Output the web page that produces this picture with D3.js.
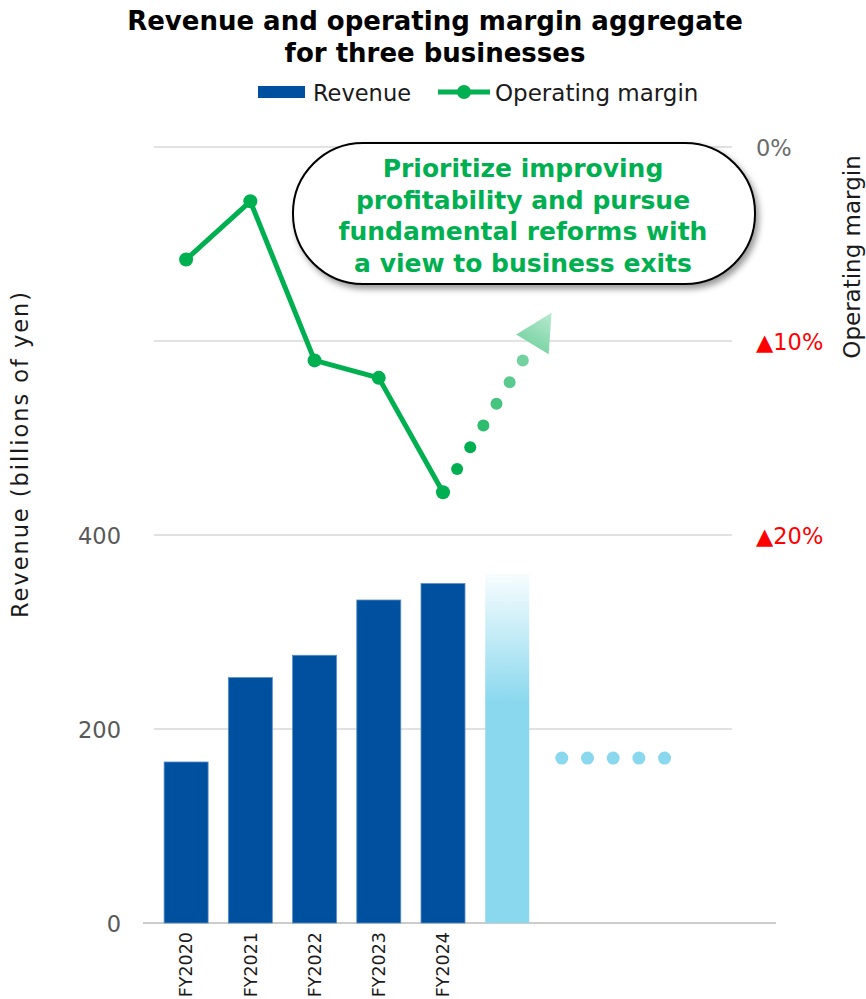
<!DOCTYPE html>
<html>
<head>
<meta charset="utf-8">
<script src="https://cdn.jsdelivr.net/npm/d3@7"></script>
<style>
  html, body { margin: 0; padding: 0; background: #ffffff; }
  svg { display: block; }
</style>
</head>
<body>
<svg id="chart" width="866" height="999"></svg>
<script>
// ---- data ----
const years = ["FY2020", "FY2021", "FY2022", "FY2023", "FY2024"];
const revenue = [166, 253, 276, 333, 350];          // billions of yen
const margin = [-5.8, -2.8, -11.0, -11.9, -17.8];   // operating margin, %
const outlookRevenue = 360;                          // next-period bar (faded)
const placeholderRevenue = 170;                      // "…" continuation level
const slotCount = 9;                                 // category slots on the x axis
const revenueTicks = [0, 200, 400];
const marginTicks = [0, -10, -20];
const marginTickLabels = ["0%", "▲10%", "▲20%"];
const outlookTarget = { slot: 5.69, margin: -8.55 }; // where the recovery arrow points
const titleLines = ["Revenue and operating margin aggregate", "for three businesses"];
const calloutLines = [
  "Prioritize improving",
  "profitability and pursue",
  "fundamental reforms with",
  "a view to business exits"
];

// ---- styles ----
const BLUE = "#0050a0";
const GREEN = "#00b050";
const LIGHT_BLUE = "#8ad8ee";
const GRID = "#d9d9d9";
const TEXT = "#1a1a1a";
const AXIS_TEXT = "#595959";
const BODY_FONT = "'DejaVu Sans', Verdana, sans-serif";
const BOLD_FONT = "'DejaVu Sans', Verdana, sans-serif";

const svg = d3.select("#chart");
const defs = svg.append("defs");

// ---- scales ----
const x = d3.scaleBand()
  .domain(d3.range(slotCount))
  .range([154, 732])
  .paddingInner(0.315)
  .paddingOuter(0.1575);
const step = x.step();
const bw = x.bandwidth();
const slotCenter = i => x(0) + bw / 2 + i * step;

const yRev = d3.scaleLinear().domain([0, 800]).range([923, 147]);
const yMar = d3.scaleLinear().domain([-40, 0]).range([923, 147]);

// ---- gridlines ----
svg.append("g")
  .selectAll("line")
  .data([200, 400, 600, 800])
  .join("line")
  .attr("x1", 154).attr("x2", 732)
  .attr("y1", d => yRev(d)).attr("y2", d => yRev(d))
  .attr("stroke", GRID).attr("stroke-width", 1.5);

// baseline
svg.append("line")
  .attr("x1", 143).attr("x2", 776)
  .attr("y1", yRev(0)).attr("y2", yRev(0))
  .attr("stroke", "#cccccc").attr("stroke-width", 2);

// ---- left axis (revenue) ----
const leftAxis = d3.axisLeft(yRev).tickValues(revenueTicks).tickSize(0).tickPadding(0);
const gl = svg.append("g").attr("transform", "translate(121,0)").call(leftAxis);
gl.select(".domain").remove();
gl.selectAll("text")
  .attr("font-family", BODY_FONT).attr("font-size", 22.5)
  .attr("fill", AXIS_TEXT).attr("dy", "0.36em");

svg.append("text")
  .attr("transform", `translate(28,455) rotate(-90)`)
  .attr("text-anchor", "middle")
  .attr("font-family", BODY_FONT).attr("font-size", 22.5).attr("fill", TEXT)
  .attr("textLength", 326).attr("lengthAdjust", "spacing")
  .text("Revenue (billions of yen)");

// ---- right axis (margin) ----
const rightAxis = d3.axisRight(yMar).tickValues(marginTicks)
  .tickFormat((d, i) => marginTickLabels[i]).tickSize(0).tickPadding(0);
const gr = svg.append("g").attr("transform", "translate(756,0)").call(rightAxis);
gr.select(".domain").remove();
gr.selectAll("text")
  .attr("font-family", BODY_FONT).attr("font-size", 22.5)
  .attr("fill", d => d === 0 ? "#6b6b6b" : "#ff0000").attr("dy", "0.36em");

svg.append("text")
  .attr("transform", `translate(860,257) rotate(-90)`)
  .attr("text-anchor", "middle")
  .attr("font-family", BODY_FONT).attr("font-size", 23).attr("fill", TEXT)
  .text("Operating margin");

// ---- bottom axis labels ----
const bottomAxis = d3.axisBottom(x)
  .tickValues(d3.range(years.length))
  .tickFormat(i => years[i]).tickSize(0).tickPadding(0);
const gb = svg.append("g").attr("transform", `translate(0,${yRev(0)})`).call(bottomAxis);
gb.select(".domain").remove();
gb.selectAll("text")
  .attr("font-family", BODY_FONT).attr("font-size", 17.5).attr("fill", TEXT)
  .attr("text-anchor", "end")
  .attr("transform", "translate(0,9) rotate(-90)")
  .attr("x", 0).attr("y", 0).attr("dy", "0.36em");

// ---- revenue bars ----
svg.append("g")
  .selectAll("rect")
  .data(revenue)
  .join("rect")
  .attr("x", (d, i) => x(i))
  .attr("y", d => yRev(d))
  .attr("width", bw)
  .attr("height", d => yRev(0) - yRev(d))
  .attr("fill", BLUE)
  .attr("stroke", "#5a8fc8").attr("stroke-width", 0.8);

// faded next-period bar
const fadeGrad = defs.append("linearGradient")
  .attr("id", "fadeBar").attr("x1", 0).attr("y1", 0).attr("x2", 0).attr("y2", 1);
fadeGrad.append("stop").attr("offset", 0).attr("stop-color", "#f8fdfe");
fadeGrad.append("stop").attr("offset", 0.37).attr("stop-color", LIGHT_BLUE);
fadeGrad.append("stop").attr("offset", 1).attr("stop-color", LIGHT_BLUE);

svg.append("rect")
  .attr("x", x(years.length))
  .attr("y", yRev(outlookRevenue))
  .attr("width", bw)
  .attr("height", yRev(0) - yRev(outlookRevenue))
  .attr("fill", "url(#fadeBar)");

// continuation dots
const contSlots = [5.85, 6.25, 6.65, 7.05, 7.45];
svg.append("g")
  .selectAll("circle")
  .data(contSlots)
  .join("circle")
  .attr("cx", d => slotCenter(d))
  .attr("cy", yRev(placeholderRevenue))
  .attr("r", 6.5)
  .attr("fill", LIGHT_BLUE);

// ---- operating margin line ----
const line = d3.line()
  .x((d, i) => slotCenter(i))
  .y(d => yMar(d));

svg.append("path")
  .datum(margin)
  .attr("d", line)
  .attr("fill", "none")
  .attr("stroke", GREEN)
  .attr("stroke-width", 5)
  .attr("stroke-linejoin", "round");

svg.append("g")
  .selectAll("circle")
  .data(margin)
  .join("circle")
  .attr("cx", (d, i) => slotCenter(i))
  .attr("cy", d => yMar(d))
  .attr("r", 7)
  .attr("fill", GREEN);

// ---- recovery arrow (dotted, fading) ----
const last = margin.length - 1;
const p0 = [slotCenter(last), yMar(margin[last])];
const p1 = [slotCenter(outlookTarget.slot), yMar(outlookTarget.margin)];
const along = t => [p0[0] + (p1[0] - p0[0]) * t, p0[1] + (p1[1] - p0[1]) * t];
const dotT = d3.range(6).map(k => 0.13 + 0.121 * k);
const dotColor = d3.scaleLinear().domain([0, 5]).range([GREEN, "#72d19e"])
  .interpolate(d3.interpolateRgb);

svg.append("g")
  .selectAll("circle")
  .data(dotT)
  .join("circle")
  .attr("cx", t => along(t)[0])
  .attr("cy", t => along(t)[1])
  .attr("r", 6)
  .attr("fill", (t, k) => k < 2 ? GREEN : dotColor(k));

const dx = p1[0] - p0[0], dy = p1[1] - p0[1];
const len = Math.hypot(dx, dy);
const ux = dx / len, uy = dy / len;
const base = along(0.824);
const half = 19;
const headGrad = defs.append("linearGradient")
  .attr("id", "arrowHead").attr("gradientUnits", "userSpaceOnUse")
  .attr("x1", p1[0]).attr("y1", p1[1]).attr("x2", base[0]).attr("y2", base[1]);
headGrad.append("stop").attr("offset", 0).attr("stop-color", "#b8e9cf");
headGrad.append("stop").attr("offset", 1).attr("stop-color", "#7fd6a8");

svg.append("path")
  .attr("d", d3.line()([
    p1,
    [base[0] - uy * half, base[1] + ux * half],
    [base[0] + uy * half, base[1] - ux * half]
  ]) + "Z")
  .attr("fill", "url(#arrowHead)");

// ---- callout ----
const shadow = defs.append("filter").attr("id", "calloutShadow")
  .attr("x", "-10%").attr("y", "-20%").attr("width", "125%").attr("height", "150%");
shadow.append("feDropShadow")
  .attr("dx", 3).attr("dy", 4).attr("stdDeviation", 3)
  .attr("flood-color", "#000").attr("flood-opacity", 0.4);

svg.append("rect")
  .attr("x", 293).attr("y", 143).attr("width", 462).attr("height", 141)
  .attr("rx", 70).attr("ry", 70)
  .attr("fill", "#ffffff").attr("stroke", "#000000").attr("stroke-width", 2)
  .attr("filter", "url(#calloutShadow)");

svg.append("g")
  .selectAll("text")
  .data(calloutLines)
  .join("text")
  .attr("x", 523)
  .attr("y", (d, i) => 177 + i * 31.7)
  .attr("text-anchor", "middle")
  .attr("font-family", BOLD_FONT).attr("font-weight", 700).attr("font-size", 25)
  .attr("fill", GREEN)
  .text(d => d);

// ---- title ----
svg.append("g")
  .selectAll("text")
  .data(titleLines)
  .join("text")
  .attr("x", 435)
  .attr("y", (d, i) => 30 + i * 32)
  .attr("text-anchor", "middle")
  .attr("font-family", BOLD_FONT).attr("font-weight", 700).attr("font-size", 26)
  .attr("fill", "#000000")
  .text(d => d);

// ---- legend ----
const legend = svg.append("g");
legend.append("rect")
  .attr("x", 258).attr("y", 86).attr("width", 47).attr("height", 12)
  .attr("fill", BLUE);
legend.append("text")
  .attr("x", 313).attr("y", 101)
  .attr("font-family", BODY_FONT).attr("font-size", 22.5).attr("fill", TEXT)
  .text("Revenue");
legend.append("line")
  .attr("x1", 438).attr("x2", 490).attr("y1", 92).attr("y2", 92)
  .attr("stroke", GREEN).attr("stroke-width", 5);
legend.append("circle")
  .attr("cx", 464).attr("cy", 92).attr("r", 7).attr("fill", GREEN);
legend.append("text")
  .attr("x", 495).attr("y", 101)
  .attr("font-family", BODY_FONT).attr("font-size", 23).attr("fill", TEXT)
  .text("Operating margin");
</script>
</body>
</html>
